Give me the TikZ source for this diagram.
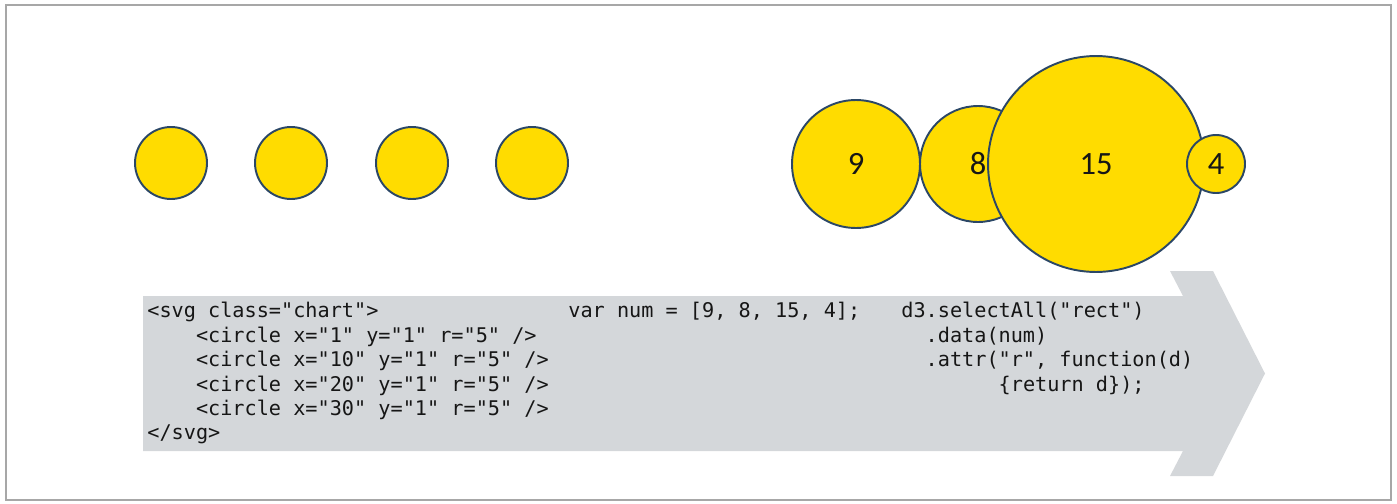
\documentclass[tikz,border=0pt]{standalone}
\usepackage{fontspec}
\setmainfont{Carlito}
\setmonofont{DejaVu Sans Mono}
\usepackage{xcolor}
\usepackage{tikz}
\definecolor{dotyellow}{HTML}{FFDC00}
\definecolor{dotline}{HTML}{2B4766}
\definecolor{codegray}{HTML}{D4D7DA}
\definecolor{framegray}{HTML}{A7A7A7}
\definecolor{codetext}{HTML}{161616}
\newcommand{\tabin}[1]{\hspace*{#1\fontdimen2\font}}

\begin{document}
\begin{tikzpicture}[
        x=0.02cm, y=-0.02cm,
        every node/.style={font=\fontsize{18.5}{22}\selectfont, text=codetext},
        dot/.style={draw=dotline, circle, fill=dotyellow, line width=1.1pt, inner sep=0pt},
        code/.style={font=\ttfamily\fontsize{11.5}{13.9}\selectfont, align=left, anchor=north west, inner sep=0pt}
    ]
        \useasboundingbox (0,0) rectangle (1397,504);
        % Frame
        \draw [framegray, line width=1pt] (6,5) rectangle (1391,500);

        % Arrow
        \fill [codegray] (143,296) -- (1183,296) -- (1170,271) -- (1213,271) -- (1265,373.5) -- (1213,476) -- (1170,476) -- (1183,451) -- (143,451) -- cycle;

        % Nodes
        \foreach \i/\xx in {1/171, 2/291, 3/412, 4/532}
            \node (plain\i) [dot, minimum size=1.44cm] at (\xx,163) {};
        \node (r9) [dot, minimum size=2.56cm] at (856,164) {9};
        \node (r8) [dot, minimum size=2.32cm] at (978,164) {8};
        \node (r15) [dot, minimum size=4.32cm] at (1096,164) {15};
        \node (r4) [dot, minimum size=1.16cm] at (1216,164) {4};

        % Code
        \node (markup) [code] at (147,302) {<svg class="chart">\\
            \tabin{4}<circle x="1" y="1" r="5" />\\
            \tabin{4}<circle x="10" y="1" r="5" />\\
            \tabin{4}<circle x="20" y="1" r="5" />\\
            \tabin{4}<circle x="30" y="1" r="5" />\\
            </svg>};
        \node (dataset) [code] at (568,302) {var num = [9, 8, 15, 4];};
        \node (binding) [code] at (901,302) {d3.selectAll("rect")\\
            \tabin{2}.data(num)\\
            \tabin{2}.attr("r", function(d)\\
            \tabin{8}\{return d\});};
    \end{tikzpicture}
\end{document}
